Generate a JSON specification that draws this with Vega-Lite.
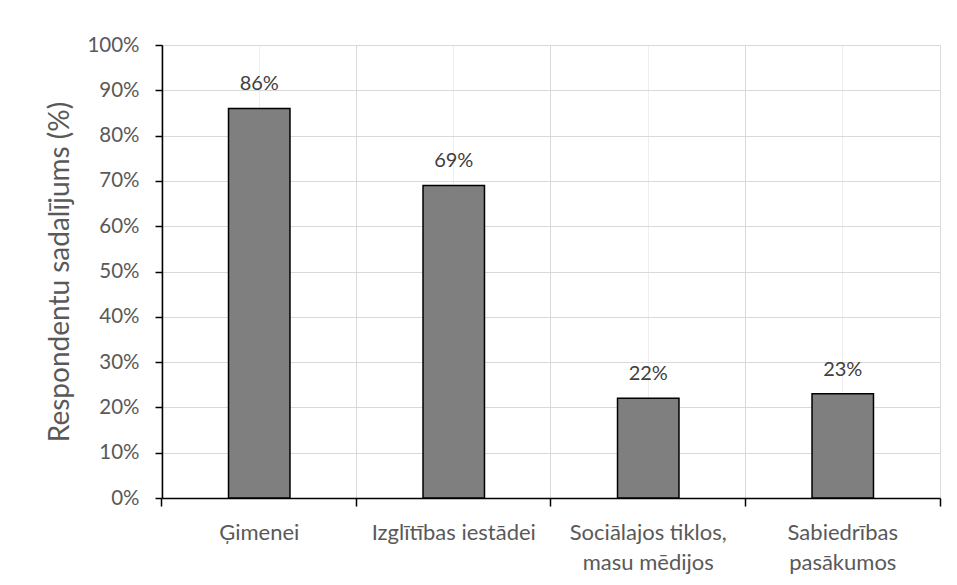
{
  "$schema": "https://vega.github.io/schema/vega-lite/v6.json",
  "width": 778,
  "height": 453,
  "autosize": {"type": "none"},
  "padding": {"left": 162, "top": 45, "right": 17, "bottom": 87},
  "background": "white",
  "config": {
    "view": {"stroke": null},
    "font": "Lato"
  },
  "data": {
    "values": [
      {"kategorija": "Ģimenei", "vertiba": 0.86},
      {"kategorija": "Izglītības iestādei", "vertiba": 0.69},
      {"kategorija": "Sociālajos tiklos, masu mēdijos", "vertiba": 0.22},
      {"kategorija": "Sabiedrības pasākumos", "vertiba": 0.23}
    ]
  },
  "resolve": {"axis": {"x": "independent"}},
  "layer": [
    {
      "mark": {"type": "tick", "opacity": 0},
      "encoding": {
        "x": {
          "field": "kategorija", "type": "nominal", "sort": null,
          "axis": {
            "orient": "bottom", "bandPosition": -1.0823, "grid": true, "gridColor": "#d9d9d9", "gridWidth": 1,
            "labels": false, "domain": false, "ticks": true, "tickColor": "#000000", "tickWidth": 1.5, "tickSize": 8, "title": null
          }
        },
        "y": {"field": "vertiba", "type": "quantitative"}
      }
    },
    {
      "mark": {"type": "tick", "opacity": 0},
      "encoding": {
        "x": {
          "field": "kategorija", "type": "nominal", "sort": null,
          "axis": {
            "orient": "bottom", "bandPosition": 2.0823, "values": ["Sabiedrības pasākumos"], "grid": true, "gridColor": "#d9d9d9", "gridWidth": 1,
            "labels": false, "domain": false, "ticks": true, "tickColor": "#000000", "tickWidth": 1.5, "tickSize": 8, "title": null
          }
        },
        "y": {"field": "vertiba", "type": "quantitative"}
      }
    },
    {
      "mark": {"type": "bar", "fill": "#7f7f7f", "stroke": "#000000", "strokeWidth": 1.5},
      "encoding": {
        "x": {
          "field": "kategorija", "type": "nominal", "sort": null,
          "scale": {"paddingInner": 0.684, "paddingOuter": 0.342},
          "axis": {
            "orient": "bottom", "title": null, "labelAngle": 0, "grid": true, "gridColor": "#eeeeee",
            "ticks": false, "domain": true, "domainColor": "#000000", "domainWidth": 1.5,
            "labelFont": "Lato", "labelFontSize": 22, "labelColor": "#595959", "labelPadding": 24,
            "labelBaseline": "top", "labelLineHeight": 30, "labelLimit": 300,
            "labelExpr": "datum.label == 'Sociālajos tiklos, masu mēdijos' ? ['Sociālajos tiklos,', 'masu mēdijos'] : datum.label == 'Sabiedrības pasākumos' ? ['Sabiedrības', 'pasākumos'] : datum.label"
          }
        },
        "y": {
          "field": "vertiba", "type": "quantitative",
          "scale": {"domain": [0, 1], "nice": false},
          "axis": {
            "title": "Respondentu sadalījums (%)", "titleFont": "Lato", "titleFontSize": 28, "titleFontWeight": "normal",
            "titleColor": "#595959", "titlePadding": 12,
            "values": [0, 0.1, 0.2, 0.3, 0.4, 0.5, 0.6, 0.7, 0.8, 0.9, 1],
            "format": ".0%", "labelFont": "Lato", "labelFontSize": 20.5, "labelColor": "#595959", "labelPadding": 16,
            "grid": true, "gridColor": "#d9d9d9", "gridWidth": 1,
            "domain": true, "domainColor": "#000000", "domainWidth": 1.5,
            "ticks": true, "tickColor": "#000000", "tickWidth": 1.5, "tickSize": 7
          }
        }
      }
    },
    {
      "mark": {"type": "text", "baseline": "alphabetic", "dy": -18, "font": "Lato", "fontSize": 20, "color": "#404040"},
      "encoding": {
        "x": {"field": "kategorija", "type": "nominal", "sort": null, "axis": null},
        "y": {"field": "vertiba", "type": "quantitative"},
        "text": {"field": "vertiba", "type": "quantitative", "format": ".0%"}
      }
    }
  ]
}
